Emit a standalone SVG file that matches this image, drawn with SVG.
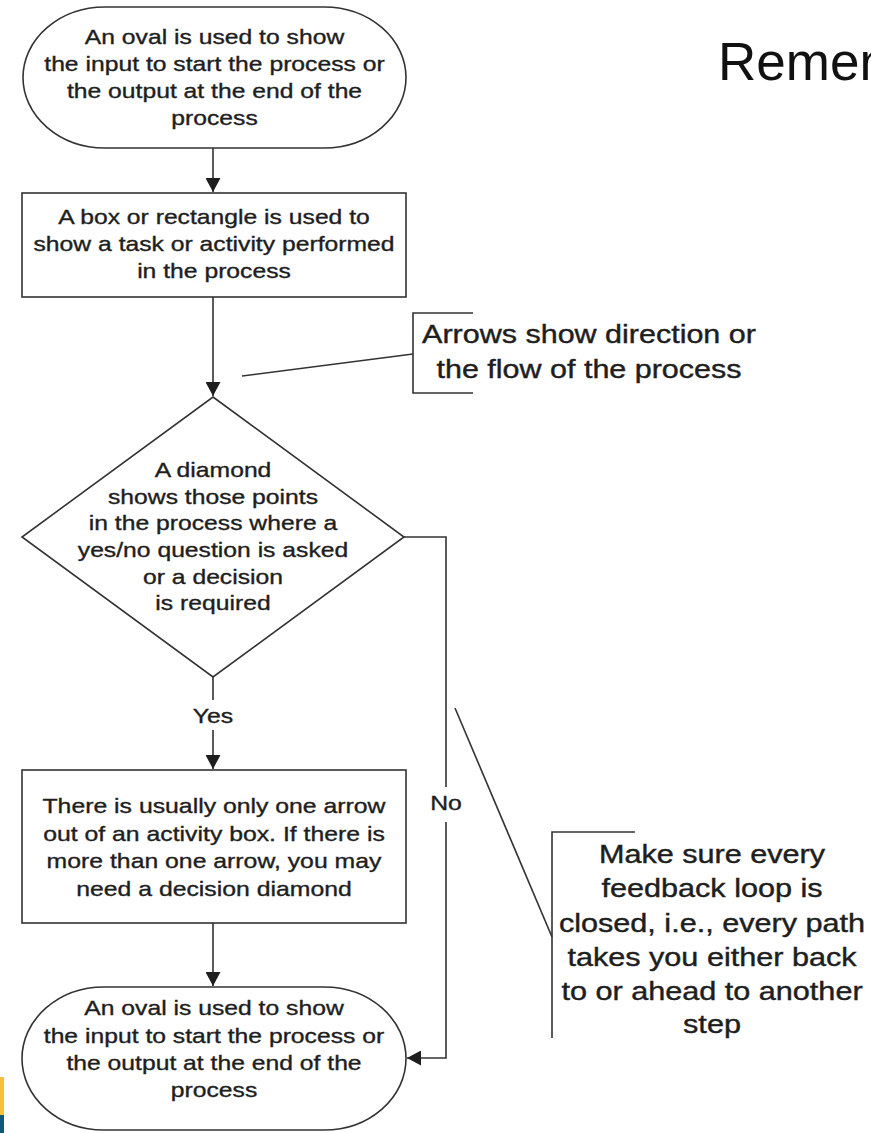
<svg xmlns="http://www.w3.org/2000/svg" width="871" height="1133" viewBox="0 0 871 1133">
  <style>
    .shape { fill: #ffffff; stroke: #333333; stroke-width: 1.6; }
    .line { fill: none; stroke: #333333; stroke-width: 1.6; }
    .t { font-family: "Liberation Sans", Arial, sans-serif; font-size: 20px; fill: #1e1e1e; stroke: #1e1e1e; stroke-width: 0.35; text-anchor: middle; }
    .a { font-family: "Liberation Sans", Arial, sans-serif; font-size: 25px; fill: #1e1e1e; stroke: #1e1e1e; stroke-width: 0.4; text-anchor: middle; }
    .title { font-family: "Liberation Sans", Arial, sans-serif; font-size: 53px; fill: #111111; }
  </style>
  <defs>
    <marker id="arrow" viewBox="0 0 14 15" refX="14" refY="7.5" markerWidth="14" markerHeight="15" markerUnits="userSpaceOnUse" orient="auto">
      <path d="M0,0 L14,7.5 L0,15 z" fill="#1e1e1e"/>
    </marker>
  </defs>
  <rect width="871" height="1133" fill="#ffffff"/>

  <text class="title" x="718" y="80">Remember</text>

  <g id="corner">
    <rect x="0" y="1077" width="4" height="38" fill="#F6C13A"/>
    <rect x="0" y="1115" width="4" height="18" fill="#0E5A7C"/>
  </g>

  <g id="connectors">
    <line class="line" x1="213" y1="148" x2="213" y2="192" marker-end="url(#arrow)"/>
    <line class="line" x1="213" y1="297" x2="213" y2="396" marker-end="url(#arrow)"/>
    <line class="line" x1="213" y1="677" x2="213" y2="700"/>
    <line class="line" x1="213" y1="730" x2="213" y2="769" marker-end="url(#arrow)"/>
    <line class="line" x1="213" y1="923" x2="213" y2="986" marker-end="url(#arrow)"/>
    <polyline class="line" points="404,537 446,537 446,787"/>
    <polyline class="line" points="446,822 446,1058 407,1058" marker-end="url(#arrow)"/>
    <g transform="translate(213 0) scale(1.24 1)"><text class="t" x="0" y="723">Yes</text></g>
    <g transform="translate(446 0) scale(1.24 1)"><text class="t" x="0" y="810">No</text></g>
  </g>

  <g id="start-oval">
    <rect class="shape" x="23" y="7" width="383" height="141" rx="82" ry="70.5"/>
    <g transform="translate(214.5 0) scale(1.235 1)">
      <text class="t" x="0" y="44">An oval is used to show</text>
      <text class="t" x="0" y="71">the input to start the process or</text>
      <text class="t" x="0" y="98">the output at the end of the</text>
      <text class="t" x="0" y="125">process</text>
    </g>
  </g>

  <g id="task-box">
    <rect class="shape" x="22" y="193" width="384" height="104"/>
    <g transform="translate(214 0) scale(1.235 1)">
      <text class="t" x="0" y="224">A box or rectangle is used to</text>
      <text class="t" x="0" y="251">show a task or activity performed</text>
      <text class="t" x="0" y="278">in the process</text>
    </g>
  </g>

  <g id="decision">
    <polygon class="shape" points="213,397 404,537 213,677 22,537"/>
    <g transform="translate(213 0) scale(1.235 1)">
      <text class="t" x="0" y="477">A diamond</text>
      <text class="t" x="0" y="504">shows those points</text>
      <text class="t" x="0" y="530">in the process where a</text>
      <text class="t" x="0" y="557">yes/no question is asked</text>
      <text class="t" x="0" y="584">or a decision</text>
      <text class="t" x="0" y="610">is required</text>
    </g>
  </g>

  <g id="activity-box">
    <rect class="shape" x="22" y="770" width="384" height="153"/>
    <g transform="translate(214 0) scale(1.24 1)">
      <text class="t" x="0" y="813">There is usually only one arrow</text>
      <text class="t" x="0" y="841">out of an activity box. If there is</text>
      <text class="t" x="0" y="868">more than one arrow, you may</text>
      <text class="t" x="0" y="896">need a decision diamond</text>
    </g>
  </g>

  <g id="end-oval">
    <rect class="shape" x="22" y="987" width="384" height="143" rx="82" ry="71.5"/>
    <g transform="translate(214 0) scale(1.235 1)">
      <text class="t" x="0" y="1015">An oval is used to show</text>
      <text class="t" x="0" y="1043">the input to start the process or</text>
      <text class="t" x="0" y="1070">the output at the end of the</text>
      <text class="t" x="0" y="1097">process</text>
    </g>
  </g>

  <g id="note-arrows">
    <polyline class="line" points="473,313 413,313 413,393 473,393"/>
    <line class="line" x1="242" y1="376" x2="413" y2="354"/>
    <g transform="translate(589 0) scale(1.22 1)">
      <text class="a" x="0" y="343">Arrows show direction or</text>
      <text class="a" x="0" y="378">the flow of the process</text>
    </g>
  </g>

  <g id="note-loop">
    <polyline class="line" points="635,832 552,832 552,1038"/>
    <line class="line" x1="455" y1="708" x2="552" y2="937"/>
    <g transform="translate(712 0) scale(1.225 1)">
      <text class="a" x="0" y="863">Make sure every</text>
      <text class="a" x="0" y="897">feedback loop is</text>
      <text class="a" x="0" y="932">closed, i.e., every path</text>
      <text class="a" x="0" y="966">takes you either back</text>
      <text class="a" x="0" y="1000">to or ahead to another</text>
      <text class="a" x="0" y="1033">step</text>
    </g>
  </g>
</svg>
